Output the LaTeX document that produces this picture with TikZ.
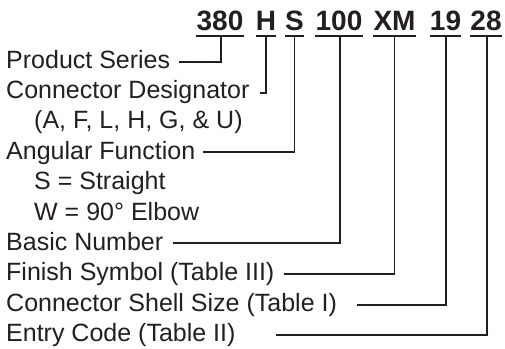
\documentclass[tikz,border=0pt]{standalone}
\usepackage{fontspec}
\setmainfont{Liberation Sans}
\definecolor{ink}{HTML}{231F20}
\begin{document}
\begin{tikzpicture}[x=1pt,y=-1pt,
  code/.style={anchor=base,inner sep=0pt,font=\fontsize{28}{30}\selectfont\bfseries,text=ink},
  lab/.style={anchor=base west,inner sep=0pt,font=\fontsize{25}{28}\selectfont,text=ink},
  wire/.style={draw=ink,line width=1.6pt},
  uline/.style={draw=ink,line width=1.8pt}]
\useasboundingbox (0,0) rectangle (505,348);
% code letters
\node[code] (c380) at (220,30) {380};
\node[code] (cH) at (266,30) {H};
\node[code] (cS) at (294.5,30) {S};
\node[code] (c100) at (339,30) {100};
\node[code] (cXM) at (394.5,30) {XM};
\node[code] (c19) at (445.5,30) {19};
\node[code] (c28) at (486,30) {28};
% underlines
\foreach \n in {c380,cH,cS,c100,cXM,c19,c28}{
  \draw[uline] ([yshift=-6pt]\n.base west) -- ([yshift=-6pt]\n.base east);
}
\coordinate (u380) at (221,36);
\coordinate (uH) at (266,36);
\coordinate (uS) at (294.5,36);
\coordinate (u100) at (340,36);
\coordinate (uXM) at (394.5,36);
\coordinate (u19) at (446,36);
\coordinate (u28) at (487,36);
% labels
\node[lab] (ps) at (6,68) {Product Series};
\node[lab] (cd) at (6,98.4) {Connector Designator};
\node[lab] (cdo) at (34,128.8) {(A, F, L, H, G, \& U)};
\node[lab] (af) at (6,159.2) {Angular Function};
\node[lab] (afs) at (34,189.6) {S = Straight};
\node[lab] (afw) at (34,220) {W = 90° Elbow};
\node[lab] (bn) at (6,250.4) {Basic Number};
\node[lab] (fs) at (6,280.8) {Finish Symbol (Table III)};
\node[lab] (ss) at (6,311.2) {Connector Shell Size (Table I)};
\node[lab] (ec) at (6,341.6) {Entry Code (Table II)};
% connector start points
\coordinate (s1) at (179,62);
\coordinate (s2) at (260,93);
\coordinate (s3) at (203,152);
\coordinate (s4) at (173,243);
\coordinate (s5) at (284,274);
\coordinate (s6) at (357,305);
\coordinate (s7) at (276,335);
\draw[wire] (s1) -| (u380);
\draw[wire] (s2) -| (uH);
\draw[wire] (s3) -| (uS);
\draw[wire] (s4) -| (u100);
\draw[wire] (s5) -| (uXM);
\draw[wire] (s6) -| (u19);
\draw[wire] (s7) -| (u28);
\end{tikzpicture}
\end{document}
